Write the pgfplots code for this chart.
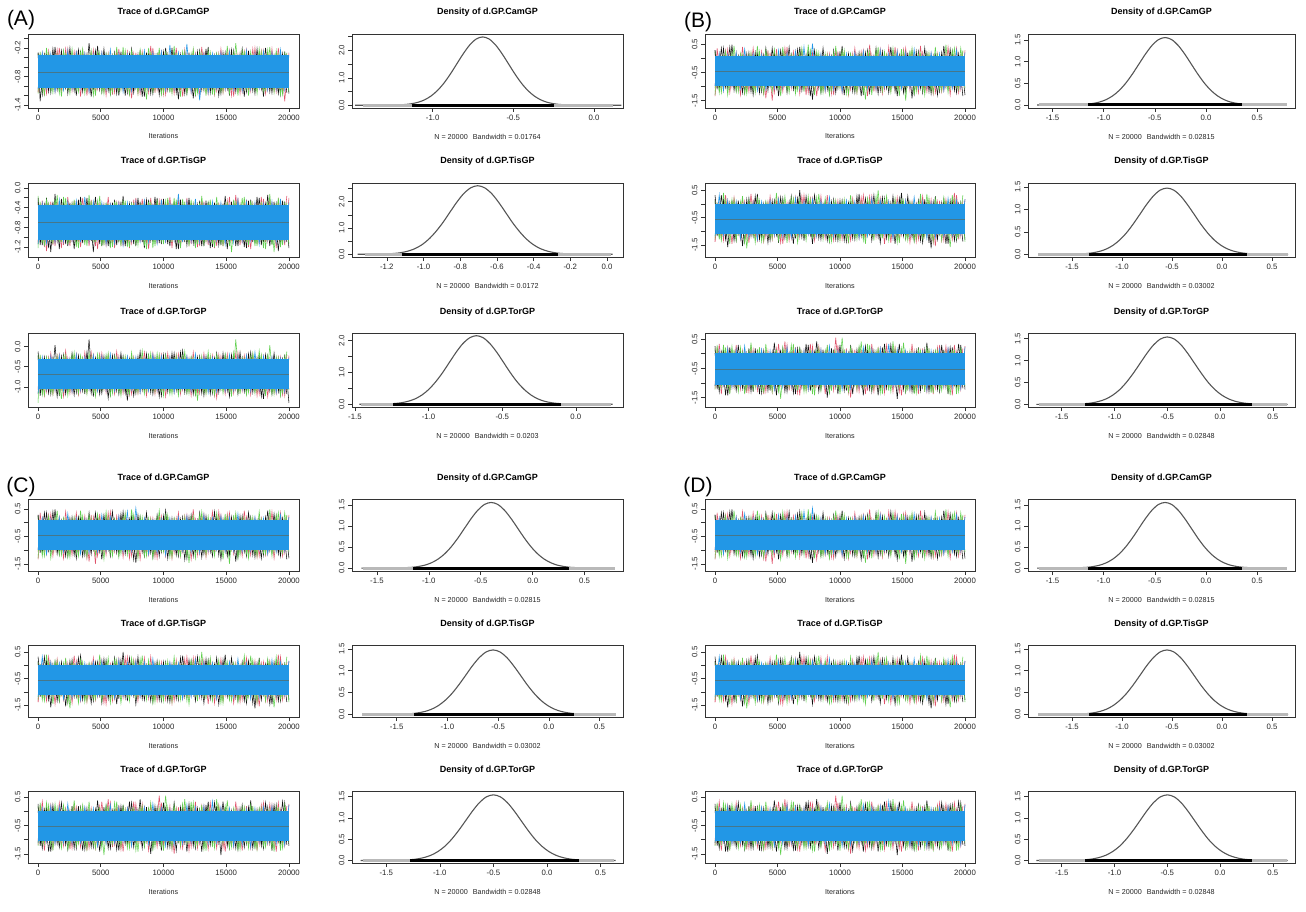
\documentclass[border=0pt]{standalone}
\usepackage{fontspec}
\setmainfont{Liberation Sans}
\usepackage{pgfplots}
\usepackage{pgfplotstable}
\pgfplotsset{compat=1.18}

\definecolor{chk}{HTML}{111111}
\definecolor{chr}{HTML}{DF536B}
\definecolor{chg}{HTML}{61D04F}
\definecolor{chb}{HTML}{2297E6}
\definecolor{mline}{HTML}{46778A}
\definecolor{dcurve}{HTML}{555555}
\definecolor{frame}{HTML}{333333}

% MCMC chains: x = iteration; a1..a3 = group A parameters, b1..b3 = groups B/C/D
% k, r, g, b = chains; xm = iterations of the second half-thinned pass
\pgfplotstableread{
x a1k a1r a1g a1b a2k a2r a2g a2b a3k a3r a3g a3b b1k b1r b1g b1b b2k b2r b2g b2b b3k b3r b3g b3b xm
0 -0.30 -1.14 -0.32 -1.06 -0.30 -1.10 -0.16 -1.14 -0.12 -1.18 -0.20 -1.16 0.28 -1.34 0.24 -0.98 0.32 -1.38 0.12 -1.18 0.02 -1.18 0.18 -1.10 19830
339 -1.18 -0.32 -1.12 -0.30 -1.16 -0.26 -1.12 -0.32 -1.14 -0.30 -1.20 -0.26 -1.10 0.16 -1.22 0.16 -1.18 0.00 -1.30 0.32 -1.30 0.34 -1.14 0.10 19491
678 -0.34 -1.16 -0.20 -1.04 -0.20 -1.28 -0.24 -1.12 -0.28 -1.12 -0.26 -1.06 0.36 -1.14 0.08 -1.14 0.16 -1.34 0.40 -1.14 0.14 -1.06 0.30 -1.06 19152
1017 -1.14 -0.36 -1.10 -0.32 -1.30 -0.28 -1.06 -0.38 -1.18 -0.16 -1.14 -0.24 -1.06 0.32 -1.30 0.12 -1.58 0.12 -1.10 0.12 -1.42 0.22 -1.18 0.18 18813
1356 -0.18 -1.12 -0.36 -1.12 -0.12 -1.18 -0.22 -1.10 0.04 -1.10 -0.30 -1.08 0.48 -1.02 0.20 -0.94 0.12 -1.46 0.16 -1.06 0.06 -1.14 0.26 -1.14 18474
1695 -1.08 -0.20 -1.16 -0.38 -1.24 -0.32 -1.10 -0.24 -1.22 -0.20 -1.18 -0.22 -1.14 0.20 -1.18 0.20 -1.34 0.04 -1.34 0.08 -1.26 0.30 -1.06 0.14 18135
2034 -0.28 -1.06 -0.26 -1.08 -0.28 -1.16 -0.18 -1.08 -0.20 -1.24 -0.24 -1.10 0.12 -1.30 0.16 -1.06 0.00 -1.30 0.08 -1.26 0.10 -1.22 0.22 -1.10 17796
2373 -1.16 -0.22 -1.06 -0.26 -1.18 -0.18 -1.14 -0.28 -1.10 -0.28 -1.22 -0.32 -1.22 0.08 -1.26 0.32 -1.38 0.08 -1.42 0.00 -1.34 0.06 -1.38 0.26 17457
2712 -0.36 -1.10 -0.22 -1.06 -0.32 -1.10 -0.32 -1.06 -0.16 -1.14 -0.20 -1.12 0.20 -1.18 0.12 -0.98 0.20 -1.42 0.12 -1.22 0.18 -1.30 0.10 -1.14 17118
3051 -1.20 -0.26 -1.08 -0.30 -1.16 -0.26 -1.20 -0.26 -1.14 -0.18 -1.08 -0.20 -1.30 0.36 -1.14 0.16 -1.18 0.16 -1.14 0.04 -1.30 0.14 -1.22 0.02 16779
3390 -0.26 -1.22 -0.28 -1.04 -0.18 -1.20 -0.28 -1.10 -0.30 -1.12 -0.22 -1.08 0.16 -1.06 0.44 -1.14 0.36 -1.34 0.20 -1.30 0.14 -1.26 0.10 -1.10 16440
3729 -1.10 -0.32 -1.16 -0.32 -1.10 -0.34 -1.16 -0.18 -1.18 -0.14 -1.10 -0.26 -1.18 0.24 -1.10 0.12 -1.26 0.00 -1.38 0.08 -1.34 0.10 -1.22 0.14 16101
4068 -0.10 -1.12 -0.36 -1.12 -0.26 -1.18 -0.14 -1.08 0.18 -1.06 -0.16 -1.06 0.36 -1.42 0.28 -1.10 0.04 -1.22 0.08 -1.10 0.06 -1.30 0.34 -1.06 15762
4407 -1.08 -0.24 -1.20 -0.34 -1.30 -0.28 -1.06 -0.28 -1.24 -0.20 -1.12 -0.22 -0.98 0.20 -0.98 0.00 -1.34 0.28 -1.26 0.12 -1.26 0.02 -1.18 0.10 15423
4746 -0.16 -1.06 -0.30 -1.02 -0.28 -1.24 -0.26 -1.04 -0.28 -1.10 -0.18 -1.10 0.24 -1.22 0.32 -1.06 0.12 -1.18 0.00 -1.14 0.38 -1.22 0.02 -1.22 15084
5085 -1.12 -0.30 -1.14 -0.30 -1.18 -0.32 -1.18 -0.30 -1.16 -0.16 -1.06 -0.24 -1.34 0.12 -1.06 0.28 -1.42 0.20 -1.34 0.16 -1.14 0.34 -1.30 -0.02 14745
5424 -0.34 -1.20 -0.32 -1.08 -0.34 -1.16 -0.30 -1.14 -0.26 -1.14 -0.20 -1.08 0.20 -1.18 0.40 -1.02 0.20 -1.46 0.12 -1.18 0.18 -1.10 0.22 -1.14 14406
5763 -1.16 -0.36 -1.18 -0.24 -1.20 -0.30 -1.22 -0.34 -1.20 -0.28 -1.22 -0.18 -1.22 0.40 -1.14 0.20 -1.18 0.04 -1.42 -0.04 -1.30 0.30 -1.10 0.22 14067
6102 -0.30 -1.14 -0.34 -1.04 -0.24 -1.22 -0.28 -1.12 -0.22 -1.18 -0.26 -1.10 0.12 -1.06 0.12 -0.98 0.28 -1.26 0.20 -1.22 0.02 -1.18 0.30 -1.10 13728
6441 -1.20 -0.22 -1.12 -0.32 -1.10 -0.26 -1.08 -0.32 -1.18 -0.24 -1.14 -0.30 -1.18 0.24 -1.26 0.24 -1.26 0.24 -1.14 0.20 -1.38 0.22 -1.14 0.14 13389
6780 -0.32 -1.08 -0.18 -1.12 -0.16 -1.18 -0.24 -1.16 -0.24 -1.16 -0.26 -1.08 0.40 -1.26 0.20 -1.06 0.50 -1.22 0.16 -1.14 0.22 -1.42 0.18 -1.06 13050
7119 -1.14 -0.28 -1.10 -0.34 -1.14 -0.34 -1.20 -0.30 -1.34 -0.26 -1.14 -0.24 -1.06 0.08 -1.18 0.40 -1.34 0.32 -1.18 0.08 -1.18 0.10 -1.30 0.10 12711
7458 -0.22 -1.26 -0.26 -1.10 -0.32 -1.12 -0.30 -1.06 -0.28 -1.18 -0.14 -1.06 0.24 -1.22 0.48 -1.02 0.12 -1.10 0.28 -1.10 0.30 -1.22 0.02 -1.22 12372
7797 -1.04 -0.30 -1.04 -0.40 -1.18 -0.20 -1.14 -0.28 -1.16 -0.30 -1.12 -0.26 -1.46 0.20 -0.98 0.52 -1.46 0.20 -1.22 0.16 -1.14 0.26 -1.38 0.06 12033
8136 -0.28 -1.16 -0.24 -1.08 -0.28 -1.10 -0.34 -1.08 -0.12 -1.14 -0.30 -1.14 0.20 -1.34 0.24 -0.94 0.04 -1.18 0.24 -1.18 0.42 -1.10 0.14 -1.02 11694
8475 -1.22 -0.34 -1.08 -0.26 -1.22 -0.24 -1.18 -0.26 -1.10 -0.14 -1.18 -0.32 -1.22 0.12 -1.22 0.16 -1.30 0.28 -1.10 0.12 -1.22 0.14 -1.26 0.14 11355
8814 -0.30 -1.14 -0.20 -1.06 -0.24 -1.24 -0.28 -1.10 -0.22 -1.08 -0.20 -1.10 0.08 -1.18 0.16 -1.14 0.08 -1.26 0.20 -1.14 0.06 -1.38 0.10 -1.14 11016
9153 -1.16 -0.20 -1.12 -0.30 -1.10 -0.32 -1.22 -0.36 -1.18 -0.16 -1.08 -0.20 -1.26 0.16 -1.30 0.08 -1.38 0.04 -1.42 0.24 -1.30 0.02 -1.34 0.26 10677
9492 -0.34 -1.08 -0.34 -1.04 -0.20 -1.14 -0.24 -1.12 -0.30 -1.12 -0.16 -1.08 0.28 -1.30 0.20 -1.10 0.16 -1.34 0.08 -1.18 0.14 -1.26 0.06 -1.06 10338
9831 -1.14 -0.28 -1.18 -0.28 -1.14 -0.22 -1.08 -0.24 -1.22 -0.20 -1.10 -0.24 -1.06 0.24 -1.02 0.12 -1.34 0.12 -1.26 0.00 -1.38 0.30 -1.22 0.10 9999
10170 -0.20 -1.18 -0.30 -1.08 -0.34 -1.12 -0.26 -1.08 -0.20 -1.24 -0.22 -1.06 0.44 -1.22 0.28 -1.18 0.12 -1.30 0.08 -1.14 0.10 -1.14 0.55 -1.22 9660
10509 -1.08 -0.36 -1.14 -0.14 -1.18 -0.18 -1.10 -0.30 -1.12 -0.26 -1.18 -0.26 -1.14 0.08 -1.26 0.16 -1.38 0.08 -1.26 0.12 -1.26 0.18 -1.18 0.06 9321
10848 -0.28 -1.16 -0.16 -1.06 -0.28 -1.06 -0.20 -1.06 -0.16 -1.14 -0.30 -1.14 0.12 -1.10 0.16 -0.98 0.04 -1.34 0.32 -1.10 0.30 -1.50 0.22 -1.18 8982
11187 -1.28 -0.30 -1.04 -0.30 -1.24 -0.24 -1.12 -0.12 -1.10 -0.18 -1.22 -0.28 -1.22 0.36 -1.14 0.20 -1.30 0.00 -1.22 0.08 -1.06 0.14 -1.06 -0.06 8643
11526 -0.30 -1.22 -0.28 -1.02 -0.32 -1.10 -0.22 -1.10 -0.10 -1.08 -0.24 -1.04 0.20 -1.06 0.08 -1.02 0.36 -1.26 0.00 -1.26 0.18 -1.30 0.26 -1.14 8304
11865 -1.16 -0.34 -1.16 -0.12 -1.16 -0.20 -1.06 -0.28 -1.14 -0.24 -1.16 -0.24 -1.30 0.28 -1.22 0.24 -1.18 0.32 -1.34 -0.04 -1.42 0.06 -1.14 0.22 7965
12204 -0.36 -1.14 -0.32 -1.12 -0.30 -1.14 -0.24 -1.08 -0.28 -1.22 -0.26 -1.10 0.28 -1.34 0.20 -1.06 0.16 -1.14 0.20 -1.18 0.14 -1.26 0.34 -1.10 7626
12543 -1.18 -0.32 -1.20 -0.36 -1.20 -0.32 -1.22 -0.22 -1.18 -0.30 -1.20 -0.18 -1.06 0.12 -1.30 0.04 -1.34 0.28 -1.14 0.20 -1.30 0.34 -1.22 0.14 7287
12882 -0.26 -1.20 -0.30 -1.30 -0.26 -1.18 -0.30 -1.10 -0.24 -1.16 -0.28 -1.06 0.36 -1.14 0.28 -1.10 0.00 -1.22 0.28 -1.14 0.06 -1.14 0.06 -1.06 6948
13221 -1.08 -0.28 -1.06 -0.34 -1.18 -0.28 -1.14 -0.34 -1.22 -0.16 -1.14 -0.26 -1.14 0.32 -1.02 0.28 -1.42 0.20 -1.18 0.12 -1.26 0.18 -1.34 0.18 6609
13560 -0.18 -1.16 -0.26 -1.14 -0.28 -1.16 -0.30 -1.08 -0.26 -1.10 -0.12 -1.14 0.08 -1.10 0.24 -1.02 0.20 -1.46 0.16 -1.10 0.34 -1.34 0.14 -1.14 6270
13899 -1.12 -0.36 -1.18 -0.32 -1.20 -0.30 -1.14 -0.28 -1.16 -0.22 -1.12 -0.28 -1.22 0.40 -1.06 0.16 -1.22 0.08 -1.34 0.08 -1.14 0.02 -1.26 0.34 5931
14238 -0.34 -1.10 -0.32 -1.04 -0.32 -1.18 -0.18 -1.06 -0.16 -1.28 -0.20 -1.12 0.20 -0.98 0.36 -0.98 0.28 -1.26 0.00 -1.26 0.18 -1.30 0.42 -1.10 5592
14577 -1.16 -0.22 -1.12 -0.30 -1.16 -0.34 -1.12 -0.30 -1.06 -0.24 -1.06 -0.34 -1.34 0.28 -1.10 0.24 -1.18 0.24 -1.42 0.04 -1.54 0.14 -1.06 0.14 5253
14916 -0.30 -1.08 -0.36 -1.06 -0.16 -1.14 -0.34 -1.14 -0.22 -1.18 -0.18 -1.10 0.12 -1.06 0.32 -1.06 0.40 -1.14 0.12 -1.06 0.14 -1.42 0.18 -1.02 4914
15255 -1.20 -0.26 -1.16 -0.28 -1.10 -0.18 -1.18 -0.36 -1.24 -0.28 -1.10 -0.20 -1.18 0.36 -1.50 0.20 -1.26 0.12 -1.30 0.12 -1.30 0.06 -1.30 0.10 4575
15594 -0.26 -1.22 -0.30 -1.08 -0.26 -1.08 -0.24 -1.10 -0.24 -1.16 -0.14 -1.08 0.16 -1.14 0.28 -1.02 0.04 -1.42 0.08 -1.18 0.02 -1.26 0.10 -1.22 4236
15933 -1.08 -0.34 -1.20 -0.38 -1.18 -0.20 -1.08 -0.24 -1.18 -0.14 -1.14 -0.24 -1.26 0.12 -1.30 0.32 -1.34 0.00 -1.38 0.24 -1.34 0.10 -1.38 0.02 3897
16272 -0.22 -1.12 -0.26 -1.10 -0.34 -1.12 -0.20 -1.08 -0.28 -1.10 -0.28 -1.06 0.24 -1.22 0.16 -1.06 0.12 -1.30 0.04 -1.10 0.22 -1.38 0.14 -1.18 3558
16611 -1.12 -0.24 -1.06 -0.26 -1.22 -0.24 -1.10 -0.28 -1.16 -0.22 -1.20 -0.22 -1.22 0.20 -1.14 0.08 -1.42 0.28 -1.26 0.08 -1.14 0.18 -1.10 0.06 3219
16950 -0.36 -1.10 -0.28 -1.06 -0.24 -1.24 -0.26 -1.06 -0.14 -1.20 -0.24 -1.10 0.20 -1.18 0.16 -1.02 0.08 -1.18 0.36 -1.26 0.38 -1.30 0.22 -1.26 2880
17289 -1.16 -0.20 -1.08 -0.32 -1.12 -0.30 -1.18 -0.30 -1.10 -0.30 -1.16 -0.14 -1.26 0.16 -1.14 0.20 -1.62 0.16 -1.22 0.04 -1.22 0.02 -1.34 0.10 2541
17628 -0.30 -1.04 -0.22 -1.04 -0.20 -1.14 -0.34 -1.14 -0.22 -1.18 -0.10 -1.08 0.12 -1.22 0.40 -0.98 0.28 -1.54 0.20 -1.22 0.06 -1.18 0.10 -1.06 2202
17967 -1.22 -0.26 -1.10 -0.28 -1.10 -0.22 -1.22 -0.32 -1.30 -0.24 -1.06 -0.24 -1.18 0.08 -1.10 0.16 -1.10 0.12 -1.10 -0.08 -1.30 0.30 -1.22 0.14 1863
18306 -0.34 -1.08 -0.24 -1.08 -0.14 -1.08 -0.28 -1.04 -0.24 -1.24 -0.22 -1.04 0.44 -1.14 0.08 -1.14 0.16 -1.34 0.24 -1.18 0.14 -1.14 0.02 -1.10 1524
18645 -1.14 -0.22 -1.04 -0.30 -1.14 -0.28 -1.16 -0.28 -1.18 -0.28 -1.18 -0.26 -1.06 0.40 -1.22 0.04 -1.46 0.04 -1.18 0.20 -1.38 0.22 -1.30 0.18 1185
18984 -0.32 -1.12 -0.26 -1.06 -0.32 -1.22 -0.30 -1.10 -0.30 -1.16 -0.26 -1.14 0.24 -1.02 0.28 -1.06 0.12 -1.30 0.32 -1.14 0.22 -1.42 0.14 -1.14 846
19323 -1.18 -0.34 -1.20 -0.24 -1.18 -0.34 -1.20 -0.22 -1.20 -0.26 -1.22 -0.30 -1.22 0.36 -1.02 0.28 -1.34 0.32 -1.26 0.12 -1.14 0.06 -1.38 -0.02 507
19662 -0.28 -1.32 -0.32 -1.08 -0.28 -1.16 -0.32 -1.06 -0.20 -1.22 -0.24 -1.12 0.08 -1.10 0.36 -1.02 0.04 -1.18 0.04 -1.10 0.30 -1.22 0.22 -1.18 168
20000 -1.16 -0.30 -1.12 -0.36 -1.22 -0.20 -1.14 -0.30 -1.40 -0.22 -1.08 -0.28 -1.30 0.28 -1.06 0.20 -1.30 0.16 -1.38 0.16 -1.22 0.26 -1.10 0.22 0
}\tracedata

% kernel density estimates
\pgfplotstableread{
x y
-1.48 0
-1.33 0.001
-1.25 0.005
-1.17 0.028
-1.13 0.057
-1.09 0.109
-1.05 0.198
-1.01 0.338
-0.97 0.539
-0.93 0.809
-0.89 1.141
-0.85 1.513
-0.81 1.882
-0.77 2.200
-0.73 2.417
-0.69 2.493
-0.65 2.417
-0.61 2.200
-0.57 1.882
-0.53 1.513
-0.49 1.141
-0.45 0.809
-0.41 0.539
-0.37 0.338
-0.33 0.198
-0.29 0.109
-0.25 0.057
-0.21 0.028
-0.13 0.005
-0.05 0.001
0.17 0
}\densAa

\pgfplotstableread{
x y
-1.36 0
-1.317 0.001
-1.241 0.006
-1.164 0.029
-1.126 0.059
-1.088 0.114
-1.049 0.207
-1.011 0.353
-0.973 0.564
-0.935 0.846
-0.896 1.193
-0.858 1.582
-0.820 1.968
-0.782 2.301
-0.743 2.527
-0.705 2.607
-0.667 2.527
-0.628 2.301
-0.590 1.968
-0.552 1.582
-0.514 1.193
-0.475 0.846
-0.437 0.564
-0.399 0.353
-0.361 0.207
-0.322 0.114
-0.284 0.059
-0.246 0.029
-0.169 0.006
-0.093 0.001
0.03 0
}\densAb

\pgfplotstableread{
x y
-1.47 0
-1.415 0.001
-1.323 0.005
-1.230 0.024
-1.184 0.049
-1.138 0.095
-1.091 0.171
-1.045 0.292
-0.999 0.466
-0.953 0.700
-0.906 0.987
-0.860 1.308
-0.814 1.628
-0.768 1.903
-0.721 2.090
-0.675 2.156
-0.629 2.090
-0.583 1.903
-0.536 1.628
-0.490 1.308
-0.444 0.987
-0.398 0.700
-0.351 0.466
-0.305 0.292
-0.259 0.171
-0.213 0.095
-0.166 0.049
-0.120 0.024
-0.028 0.005
0.065 0.001
0.25 0
}\densAc

\pgfplotstableread{
x y
-1.65 0
-1.424 0.001
-1.296 0.003
-1.168 0.017
-1.104 0.036
-1.040 0.068
-0.976 0.124
-0.912 0.211
-0.848 0.337
-0.784 0.506
-0.720 0.713
-0.656 0.945
-0.592 1.176
-0.528 1.375
-0.464 1.511
-0.400 1.558
-0.336 1.511
-0.272 1.375
-0.208 1.176
-0.144 0.945
-0.080 0.713
-0.016 0.506
0.048 0.337
0.112 0.211
0.176 0.124
0.240 0.068
0.304 0.036
0.368 0.017
0.496 0.003
0.624 0.001
0.78 0
}\densBa

\pgfplotstableread{
x y
-1.84 0
-1.630 0.001
-1.495 0.003
-1.360 0.016
-1.293 0.034
-1.225 0.065
-1.158 0.117
-1.090 0.200
-1.023 0.320
-0.955 0.480
-0.888 0.676
-0.820 0.896
-0.753 1.115
-0.685 1.304
-0.618 1.432
-0.550 1.477
-0.483 1.432
-0.415 1.304
-0.348 1.115
-0.280 0.896
-0.213 0.676
-0.145 0.480
-0.078 0.320
-0.010 0.200
0.058 0.117
0.125 0.065
0.193 0.034
0.260 0.016
0.395 0.003
0.530 0.001
0.66 0
}\densBb

\pgfplotstableread{
x y
-1.74 0
-1.536 0.001
-1.407 0.003
-1.277 0.017
-1.212 0.035
-1.148 0.068
-1.083 0.122
-1.018 0.209
-0.953 0.333
-0.889 0.500
-0.824 0.705
-0.759 0.934
-0.694 1.163
-0.630 1.359
-0.565 1.493
-0.500 1.540
-0.435 1.493
-0.370 1.359
-0.306 1.163
-0.241 0.934
-0.176 0.705
-0.112 0.500
-0.047 0.333
0.018 0.209
0.083 0.122
0.148 0.068
0.212 0.035
0.277 0.017
0.407 0.003
0.536 0.001
0.64 0
}\densBc

\pgfplotsset{
  rbase/.style={
    scale only axis, anchor=north west, no markers,
    axis line style={line width=0.9pt, draw=frame},
    tick align=outside, xtick pos=lower, ytick pos=left,
    major tick length=4pt, minor tick length=4pt,
    tick style={line width=0.6pt, draw=frame},
    /pgf/number format/assume math mode=true,
    ticklabel style={font=\fontsize{7.8}{8}\selectfont, text=black!85},
    yticklabel style={rotate=90, anchor=south,
      /pgf/number format/.cd, fixed, fixed zerofill, precision=1},
    title style={at={(0.5,1)}, anchor=base, yshift=13pt,
      font=\bfseries\fontsize{9}{10}\selectfont},
    xlabel style={at={(0.5,0)}, anchor=base, yshift=-31pt,
      font=\fontsize{7.2}{8}\selectfont, text=black!85},
  },
  trace/.style={rbase,
    xmin=-800, xmax=20800, xtick={0,5000,10000,15000,20000},
    scaled x ticks=false,
    xticklabel style={/pgf/number format/.cd, fixed, precision=0, 1000 sep={}},
    xlabel={Iterations}},
  dens/.style={rbase,
    xticklabel style={/pgf/number format/.cd, fixed, fixed zerofill, precision=1}},
  chain/.style={line width=0.55pt},
  % y axes of the trace panels
  ya1/.style={ymin=-1.46, ymax=0.09, ytick={-1.4,-0.8,-0.2}, minor ytick={-1.2,-1.0,-0.6,-0.4,0}},
  ya2/.style={ymin=-1.40, ymax=0.10, ytick={-1.2,-0.8,-0.4,0}, minor ytick={-1.0,-0.6,-0.2}},
  ya3/.style={ymin=-1.50, ymax=0.34, ytick={-1,-0.5,0}},
  yb1/.style={ymin=-1.76, ymax=0.86, ytick={-1.5,-0.5,0.5}, minor ytick={-1,0}},
  yb2/.style={ymin=-1.94, ymax=0.76, ytick={-1.5,-0.5,0.5}, minor ytick={-1,0}},
  yb3/.style={ymin=-1.82, ymax=0.71, ytick={-1.5,-0.5,0.5}, minor ytick={-1,0}},
  % axes of the density panels
  da1/.style={xmin=-1.50, xmax=0.18, ymin=-0.10, ymax=2.60, xtick={-1,-0.5,0}, ytick={0,1,2}, minor ytick={0.5,1.5,2.5}},
  da2/.style={xmin=-1.39, xmax=0.087, ymin=-0.104, ymax=2.71, xtick={-1.2,-1,-0.8,-0.6,-0.4,-0.2,0}, ytick={0,1,2}, minor ytick={0.5,1.5,2.5}},
  da3/.style={xmin=-1.52, xmax=0.32, ymin=-0.086, ymax=2.24, xtick={-1.5,-1,-0.5,0}, ytick={0,1,2}, minor ytick={0.5,1.5}},
  db1/.style={xmin=-1.74, xmax=0.87, ymin=-0.07, ymax=1.64, xtick={-1.5,-1,-0.5,0,0.5}, ytick={0,0.5,1,1.5}},
  db2/.style={xmin=-1.94, xmax=0.73, ymin=-0.06, ymax=1.59, xtick={-1.5,-1,-0.5,0,0.5}, ytick={0,0.5,1,1.5}},
  db3/.style={xmin=-1.82, xmax=0.71, ymin=-0.06, ymax=1.63, xtick={-1.5,-1,-0.5,0,0.5}, ytick={0,0.5,1,1.5}},
}

% #1 left, #2 top, #3 parameter, #4 column prefix, #5 axis style,
% #6/#7 core band of chain 4, #8 posterior mean, #9 height
\newcommand{\Trace}[9]{%
  \begin{axis}[trace, #5, at={(#1pt,-#2pt)}, height=#9pt, title={Trace of d.GP.#3}]
    \addplot[chk, chain] table[x=x, y=#4k] \tracedata;
    \addplot[chr, chain] table[x=x, y=#4r] \tracedata;
    \addplot[chg, chain] table[x=x, y=#4g] \tracedata;
    \addplot[chk, chain] table[x=xm, y=#4r] \tracedata;
    \addplot[chr, chain] table[x=xm, y=#4g] \tracedata;
    \addplot[chg, chain] table[x=xm, y=#4k] \tracedata;
    \addplot[fill=chb, draw=none] coordinates {(0,#6) (20000,#6) (20000,#7) (0,#7)};
    \addplot[chb, line width=0.6pt] table[x=x, y=#4b] \tracedata;
    \addplot[mline, line width=0.4pt] coordinates {(0,#8) (20000,#8)};
  \end{axis}}

% #1 left, #2 top, #3 parameter, #4 density table, #5 axis style,
% #6 bandwidth, #7 full rug, #8 dense rug, #9 height
\newcommand{\Dens}[9]{%
  \begin{axis}[dens, #5, at={(#1pt,-#2pt)}, height=#9pt, title={Density of d.GP.#3},
      xlabel={N = 20000\hspace{0.7em}Bandwidth = #6}]
    \addplot[dcurve, line width=1.1pt, smooth] table {#4};
    \addplot[gray!55, line width=3pt] coordinates {#7};
    \addplot[black, line width=3pt] coordinates {#8};
  \end{axis}}

\begin{document}
\begin{tikzpicture}
\path[use as bounding box] (0,0) rectangle (1306pt,-912pt);

% ---- group A ----
\node[font=\fontsize{21}{24}\selectfont] at (21pt,-20pt) {(A)};
\Trace{28}{34}{CamGP}{a1}{ya1,width=271pt}{-0.36}{-1.04}{-0.70}{74}
\Trace{28}{183}{TisGP}{a2}{ya2,width=271pt}{-0.34}{-1.06}{-0.70}{74}
\Trace{28}{333}{TorGP}{a3}{ya3,width=271pt}{-0.30}{-1.06}{-0.68}{74}
\Dens{352}{34}{CamGP}{\densAa}{da1,width=271pt}{0.01764}{(-1.43,0) (0.12,0)}{(-1.13,0) (-0.25,0)}{74}
\Dens{352}{183}{TisGP}{\densAb}{da2,width=271pt}{0.0172}{(-1.32,0) (0.02,0)}{(-1.12,0) (-0.27,0)}{74}
\Dens{352}{333}{TorGP}{\densAc}{da3,width=271pt}{0.0203}{(-1.46,0) (0.24,0)}{(-1.24,0) (-0.10,0)}{74}

% ---- group B ----
\node[font=\fontsize{21}{24}\selectfont] at (698pt,-22pt) {(B)};
\Trace{705}{34}{CamGP}{b1}{yb1,width=270pt}{0.08}{-0.98}{-0.45}{74}
\Trace{705}{183}{TisGP}{b2}{yb2,width=270pt}{0.00}{-1.10}{-0.55}{74}
\Trace{705}{333}{TorGP}{b3}{yb3,width=270pt}{0.02}{-1.06}{-0.52}{74}
\Dens{1028}{34}{CamGP}{\densBa}{db1,width=267pt}{0.02815}{(-1.63,0) (0.79,0)}{(-1.15,0) (0.35,0)}{74}
\Dens{1028}{183}{TisGP}{\densBb}{db2,width=267pt}{0.03002}{(-1.84,0) (0.66,0)}{(-1.33,0) (0.25,0)}{74}
\Dens{1028}{333}{TorGP}{\densBc}{db3,width=267pt}{0.02848}{(-1.72,0) (0.63,0)}{(-1.28,0) (0.30,0)}{74}

% ---- group C ----
\node[font=\fontsize{21}{24}\selectfont] at (21pt,-487pt) {(C)};
\Trace{28}{499}{CamGP}{b1}{yb1,width=271pt}{0.08}{-0.98}{-0.45}{72}
\Trace{28}{645}{TisGP}{b2}{yb2,width=271pt}{0.00}{-1.10}{-0.55}{72}
\Trace{28}{791}{TorGP}{b3}{yb3,width=271pt}{0.02}{-1.06}{-0.52}{72}
\Dens{352}{499}{CamGP}{\densBa}{db1,width=271pt}{0.02815}{(-1.63,0) (0.79,0)}{(-1.15,0) (0.35,0)}{72}
\Dens{352}{645}{TisGP}{\densBb}{db2,width=271pt}{0.03002}{(-1.84,0) (0.66,0)}{(-1.33,0) (0.25,0)}{72}
\Dens{352}{791}{TorGP}{\densBc}{db3,width=271pt}{0.02848}{(-1.72,0) (0.63,0)}{(-1.28,0) (0.30,0)}{72}

% ---- group D ----
\node[font=\fontsize{21}{24}\selectfont] at (698pt,-487pt) {(D)};
\Trace{705}{499}{CamGP}{b1}{yb1,width=270pt}{0.08}{-0.98}{-0.45}{72}
\Trace{705}{645}{TisGP}{b2}{yb2,width=270pt}{0.00}{-1.10}{-0.55}{72}
\Trace{705}{791}{TorGP}{b3}{yb3,width=270pt}{0.02}{-1.06}{-0.52}{72}
\Dens{1028}{499}{CamGP}{\densBa}{db1,width=267pt}{0.02815}{(-1.63,0) (0.79,0)}{(-1.15,0) (0.35,0)}{72}
\Dens{1028}{645}{TisGP}{\densBb}{db2,width=267pt}{0.03002}{(-1.84,0) (0.66,0)}{(-1.33,0) (0.25,0)}{72}
\Dens{1028}{791}{TorGP}{\densBc}{db3,width=267pt}{0.02848}{(-1.72,0) (0.63,0)}{(-1.28,0) (0.30,0)}{72}
\end{tikzpicture}
\end{document}
